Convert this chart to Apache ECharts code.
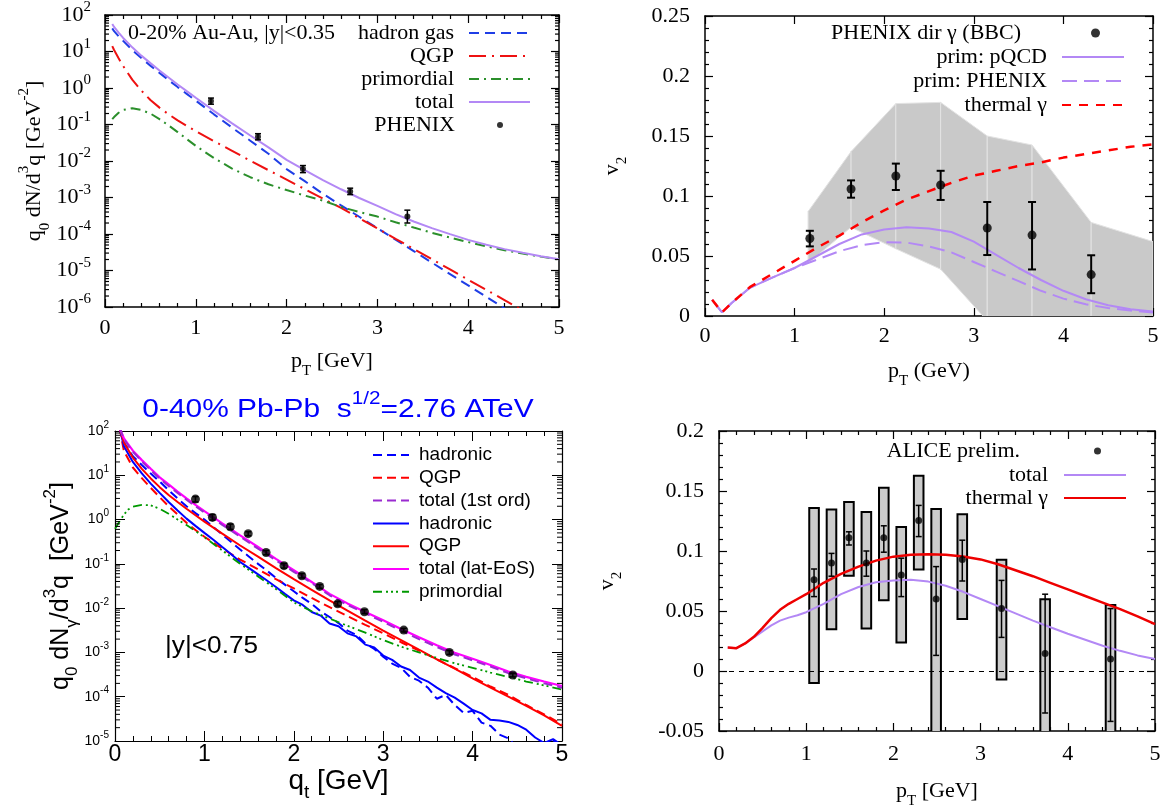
<!DOCTYPE html>
<html>
<head>
<meta charset="utf-8">
<title>Direct photon spectra and elliptic flow</title>
<script src="https://cdn.jsdelivr.net/npm/echarts@6/dist/echarts.min.js"></script>
<style>
  html, body { margin: 0; padding: 0; background: #fff; }
  #chart { width: 1167px; height: 810px; }
</style>
</head>
<body>
<div id="chart"></div>
<script>
// ---------- Au-Au 0-20% photon spectra (top left) ----------
const auPt = [0.08,0.1,0.15,0.2,0.3,0.4,0.5,0.6,0.7,0.8,0.9,1.0,1.2,1.4,1.6,1.8,2.0,2.2,2.4,2.6,2.8,3.0,3.2,3.4,3.6,3.8,4.0,4.2,4.4,4.6,4.8,5.0];
const auHadronGas = [43,36,26,19.5,11,6.6,4.1,2.6,1.65,1.06,0.69,0.45,0.19,0.082,0.036,0.0158,0.006,0.0028,0.00126,0.00061,0.000297,0.000144,7e-5,3.4e-5,1.65e-5,8e-6,3.9e-6,1.9e-6,9.2e-7,4.5e-7,2.2e-7,1.05e-7];
const auQGP = [14,11,6.5,4.0,1.7,0.85,0.47,0.29,0.19,0.13,0.092,0.066,0.035,0.019,0.0102,0.0056,0.0031,0.0017,0.00093,0.00052,0.000272,0.000142,7.4e-5,3.9e-5,2.05e-5,1.07e-5,5.6e-6,2.95e-6,1.55e-6,8.1e-7,4.2e-7,2.2e-7];
const auPrimordial = [0.14,0.16,0.21,0.25,0.28,0.25,0.2,0.14,0.095,0.062,0.04,0.026,0.012,0.0062,0.0036,0.0023,0.0016,0.00113,0.00082,0.00055,0.0004,0.0003,0.00021,0.00015,0.000108,8e-5,6e-5,4.6e-5,3.6e-5,2.9e-5,2.4e-5,2e-5];
const auTotal = [57,47,33,23.5,13,7.7,4.8,3.0,1.94,1.25,0.82,0.54,0.237,0.107,0.05,0.0237,0.0107,0.0056,0.003,0.00168,0.00097,0.00059,0.00035,0.00022,0.000145,9.9e-5,6.9e-5,5.1e-5,3.85e-5,3.05e-5,2.46e-5,2.03e-5];
const phenixPt = [1.167,1.685,2.18,2.70,3.33];
const phenixYield = [0.44,0.046,0.006,0.00145,0.0003];
const phenixLo = [0.36,0.038,0.0048,0.0012,0.0002];
const phenixHi = [0.53,0.056,0.0075,0.0018,0.00045];

// ---------- Au-Au photon v2 (top right) ----------
const v2Pt = [0.08,0.19,0.3,0.5,0.75,1.0,1.25,1.5,1.75,2.0,2.25,2.5,2.75,3.0,3.25,3.5,3.75,4.0,4.25,4.5,4.75,5.0];
const v2Thermal = [0.0135,0.003,0.011,0.024,0.035,0.046,0.057,0.067,0.078,0.088,0.097,0.104,0.111,0.117,0.121,0.125,0.128,0.132,0.135,0.138,0.141,0.143];
const v2PrimPQCD = [0.0135,0.003,0.011,0.0235,0.032,0.040,0.050,0.060,0.068,0.072,0.074,0.073,0.070,0.062,0.051,0.040,0.030,0.021,0.014,0.009,0.0057,0.0037];
const v2PrimPhenix = [0.0135,0.003,0.011,0.0235,0.032,0.040,0.047,0.054,0.059,0.0615,0.0612,0.058,0.053,0.045,0.037,0.029,0.021,0.0145,0.0098,0.0066,0.0045,0.003];
const phxV2Pt = [1.17,1.63,2.13,2.63,3.15,3.65,4.31];
const phxV2 = [0.0646,0.1058,0.1167,0.1092,0.0733,0.0674,0.0345];
const phxV2Lo = [0.058,0.0986,0.105,0.0967,0.0508,0.0388,0.019];
const phxV2Hi = [0.071,0.113,0.127,0.121,0.095,0.095,0.0506];
const sysBandPt = [1.15,1.63,2.13,2.63,3.15,3.65,4.31,5.0];
const sysBandLo = [0.044,0.074,0.056,0.039,-0.004,-0.03,-0.02,-0.02];
const sysBandHi = [0.087,0.137,0.177,0.178,0.150,0.1425,0.078,0.062];

// ---------- Pb-Pb 0-40% photon spectra (bottom left) ----------
const pbPt = [0.05,0.1,0.2,0.3,0.4,0.5,0.6,0.7,0.8,0.9,1.0,1.2,1.4,1.6,1.8,2.0,2.2,2.4,2.6,2.8,3.0,3.2,3.4,3.6,3.8,4.0,4.2,4.4,4.6,4.8,5.0];
const qgpFirst = [120,35,15,8.6,5.2,3.2,2.0,1.3,0.85,0.58,0.41,0.22,0.125,0.075,0.045,0.028,0.017,0.0105,0.0066,0.0042,0.0027,0.0017,0.0011,0.0007,0.00044,0.00028,0.00017,0.00011,6.5e-5,4e-5,2.4e-5];
const qgpLat = [120,55,25,14,8.5,5.4,3.6,2.5,1.75,1.25,0.9,0.48,0.26,0.145,0.08,0.045,0.026,0.015,0.0088,0.0052,0.0031,0.0019,0.00115,0.0007,0.00043,0.00026,0.00016,0.0001,6.2e-5,3.8e-5,2.2e-5];
const totalFirst = [120,65,34,20.5,13,8.4,5.7,4.0,2.8,2.0,1.45,0.76,0.41,0.22,0.12,0.066,0.037,0.0195,0.0118,0.0076,0.0049,0.0031,0.002,0.00133,0.0009,0.00066,0.00048,0.00034,0.00026,0.0002,0.00016];
const totalLat = [120,68,36,22,14,9,6.2,4.3,3.0,2.15,1.55,0.82,0.44,0.24,0.13,0.072,0.039,0.021,0.0128,0.0082,0.0053,0.0034,0.0022,0.00145,0.00098,0.00072,0.00052,0.00037,0.00028,0.00022,0.000175];
const hadPt = [0.05,0.1,0.2,0.3,0.4,0.5,0.6,0.7,0.8,0.9,1.0,1.1,1.2,1.3,1.4,1.5,1.6,1.7,1.8,1.9,2.0,2.1,2.2,2.3,2.4,2.5,2.6,2.7,2.8,2.9,3.0,3.1,3.2,3.3,3.4,3.5,3.6,3.7,3.8,3.9,4.0,4.1,4.2,4.3,4.4,4.5,4.6,4.7,4.8,4.9,5.0];
const hadFirst = [120,55,27,17,11,7.2,4.6,3.0,2.0,1.4,1.0,0.68,0.46,0.31,0.21,0.145,0.1,0.07,0.048,0.034,0.024,0.017,0.0125,0.0085,0.0063,0.0046,0.0031,0.0025,0.0016,0.0012,0.0008,0.00056,0.00045,0.00028,0.00023,0.00016,9e-5,0.00011,6.5e-5,4.3e-5,4.8e-5,2.6e-5,2.2e-5,1.4e-5,1.15e-5,7e-6,5e-6,4e-6,8e-6,1.05e-5,7e-6];
const hadLat = [120,45,20,11,6.5,4.0,2.5,1.6,1.05,0.72,0.5,0.35,0.24,0.165,0.11,0.08,0.058,0.042,0.03,0.021,0.015,0.0118,0.0082,0.0068,0.0045,0.0039,0.0027,0.0023,0.0015,0.0013,0.00085,0.00068,0.00048,0.0004,0.00027,0.00022,0.00016,0.00012,9.5e-5,7e-5,5e-5,4.2e-5,3e-5,2.9e-5,2.7e-5,2.3e-5,1.8e-5,1.2e-5,9e-6,1.1e-5,8e-6];
const primPt = [0.0,0.05,0.1,0.15,0.2,0.3,0.4,0.5,0.6,0.7,0.8,0.9,1.0,1.2,1.4,1.6,1.8,2.0,2.2,2.4,2.6,2.8,3.0,3.2,3.4,3.6,3.8,4.0,4.2,4.4,4.6,4.8,5.0];
const primPb = [0.62,0.9,1.3,1.7,1.95,2.15,2.1,1.75,1.35,1.0,0.75,0.55,0.4,0.2,0.1,0.052,0.027,0.0135,0.0085,0.0058,0.004,0.0028,0.0019,0.00135,0.001,0.00075,0.00057,0.00045,0.00035,0.00028,0.00022,0.00018,0.000145];
const alicePt = [0.9,1.09,1.29,1.49,1.69,1.89,2.09,2.29,2.49,2.79,3.23,3.74,4.45];
const aliceYield = [2.9,1.12,0.69,0.48,0.18,0.091,0.054,0.031,0.0125,0.0083,0.0032,0.001,0.00031];
const aliceLo = [2.5,0.97,0.6,0.43,0.16,0.08,0.048,0.028,0.0112,0.0075,0.0029,0.0009,0.00028];
const aliceHi = [3.3,1.3,0.79,0.53,0.2,0.102,0.06,0.034,0.014,0.0092,0.0035,0.0011,0.00034];

// ---------- Pb-Pb photon v2 (bottom right) ----------
const lhcPt = [0.1,0.2,0.3,0.4,0.5,0.6,0.7,0.8,0.9,1.0,1.2,1.4,1.6,1.8,2.0,2.2,2.4,2.6,2.8,3.0,3.2,3.4,3.6,3.8,4.0,4.2,4.4,4.6,4.8,5.0];
const lhcThermal = [0.0195,0.019,0.023,0.0285,0.036,0.044,0.051,0.056,0.060,0.064,0.0735,0.081,0.087,0.092,0.0953,0.0968,0.0972,0.0968,0.0955,0.093,0.089,0.084,0.079,0.0735,0.068,0.0625,0.057,0.0515,0.0455,0.039];
const lhcTotal = [0.0195,0.019,0.023,0.028,0.033,0.038,0.042,0.0445,0.0465,0.049,0.056,0.064,0.070,0.074,0.0755,0.076,0.0745,0.071,0.066,0.060,0.054,0.048,0.042,0.0365,0.031,0.026,0.021,0.0168,0.013,0.010];
const aliceV2Pt = [1.09,1.29,1.49,1.69,1.89,2.09,2.29,2.49,2.79,3.24,3.74,4.49];
const aliceV2 = [0.076,0.090,0.111,0.090,0.111,0.080,0.1254,0.060,0.093,0.052,0.0146,0.010];
const aliceV2StatLo = [0.062,0.079,0.105,0.079,0.099,0.062,0.112,0.013,0.075,0.028,-0.035,-0.042];
const aliceV2StatHi = [0.085,0.098,0.116,0.100,0.121,0.094,0.138,0.087,0.109,0.0755,0.064,0.052];
const aliceV2SysLo = [-0.0099,0.0347,0.0794,0.0355,0.059,0.0238,0.0845,-0.06,0.0433,-0.0071,-0.06,-0.06];
const aliceV2SysHi = [0.1358,0.1346,0.1408,0.1324,0.1527,0.120,0.1628,0.135,0.1307,0.0927,0.0597,0.055];

// ---------- styling helpers ----------
const SERIF = '"Liberation Serif","Times New Roman",serif';
const SANS = '"Liberation Sans",Arial,Helvetica,sans-serif';
const pairs = (xs, ys) => xs.map((x, i) => [x, ys[i]]);
const quads = (xs, ys, lo, hi) => xs.map((x, i) => [x, ys[i], lo[i], hi[i]]);
const stripTag = n => n.split('#')[0];

function scriptRich(family, size, color) {
  const s = Math.round(size * 0.68);
  return {
    b: { fontFamily: family, fontSize: size, lineHeight: size + 14, verticalAlign: 'middle', color: color, fill: color },
    sup: { fontFamily: family, fontSize: s, lineHeight: s, verticalAlign: 'top', color: color, fill: color },
    sub: { fontFamily: family, fontSize: s, lineHeight: s, verticalAlign: 'bottom', color: color, fill: color }
  };
}
function powRich(family, size, supSize, lh) {
  return {
    b: { fontFamily: family, fontSize: size, lineHeight: lh, verticalAlign: 'middle', color: '#000' },
    s: { fontFamily: family, fontSize: supSize, lineHeight: supSize, verticalAlign: 'top', color: '#000' }
  };
}
const powFormatter = v => '{b|10}{s|' + Math.round(Math.log10(v)) + '}';

function makeX(grid, o) {
  const base = {
    gridIndex: grid, type: 'value', min: 0, max: 5, interval: 1,
    axisLine: { show: true, onZero: false, lineStyle: { color: '#000', width: o.lw } },
    axisTick: { show: true, inside: true, length: o.tick, lineStyle: { color: '#000', width: o.tw } },
    minorTick: { show: o.minor, splitNumber: 5, length: o.minorLen, lineStyle: { color: '#000', width: o.tw } },
    splitLine: { show: false }, minorSplitLine: { show: false }
  };
  return [
    Object.assign({}, base, {
      position: 'bottom', name: o.name, nameLocation: 'middle', nameGap: o.nameGap,
      nameTextStyle: { rich: o.nameRich },
      axisLabel: { show: true, color: '#000', fontFamily: o.family, fontSize: o.labelSize, margin: o.margin }
    }),
    Object.assign({}, base, { position: 'top', name: '', axisLabel: { show: false } })
  ];
}
function makeY(grid, o) {
  const base = {
    gridIndex: grid, type: o.type, min: o.min, max: o.max,
    axisLine: { show: true, onZero: false, lineStyle: { color: '#000', width: o.lw } },
    axisTick: { show: true, inside: true, length: o.tick, lineStyle: { color: '#000', width: o.tw } },
    splitLine: { show: false }, minorSplitLine: { show: false }
  };
  if (o.type === 'log') { base.logBase = 10; base.splitNumber = o.splits; }
  else {
    base.interval = o.interval;
    base.minorTick = { show: true, splitNumber: 5, length: o.minorLen, lineStyle: { color: '#000', width: o.tw } };
  }
  return [
    Object.assign({}, base, {
      position: 'left', name: o.name, nameLocation: 'middle', nameGap: o.nameGap, nameRotate: 90,
      nameTextStyle: { rich: o.nameRich },
      axisLabel: Object.assign({ show: true, color: '#000', fontFamily: o.family, fontSize: o.labelSize, margin: o.margin }, o.label || {})
    }),
    Object.assign({}, base, { position: 'right', name: '', axisLabel: { show: false } })
  ];
}

// minor ticks of a decade axis, drawn on both vertical edges of the grid
function logMinorValues(e0, e1) {
  const out = [];
  for (let e = e0; e < e1; e++) for (let m = 2; m <= 9; m++) out.push([0, m * Math.pow(10, e)]);
  return out;
}
function logMinorItem(len, width) {
  return function (params, api) {
    const cs = params.coordSys;
    const y = api.coord([api.value(0), api.value(1)])[1];
    const st = { stroke: '#000', lineWidth: width };
    return { type: 'group', children: [
      { type: 'line', shape: { x1: cs.x, y1: y, x2: cs.x + len, y2: y }, style: st },
      { type: 'line', shape: { x1: cs.x + cs.width - len, y1: y, x2: cs.x + cs.width, y2: y }, style: st }
    ] };
  };
}
function errorBarItem(cap, width, color) {
  return function (params, api) {
    const x = api.value(0);
    const lo = api.coord([x, api.value(2)]);
    const hi = api.coord([x, api.value(3)]);
    const st = { stroke: color, lineWidth: width };
    return { type: 'group', children: [
      { type: 'line', shape: { x1: lo[0], y1: lo[1], x2: hi[0], y2: hi[1] }, style: st },
      { type: 'line', shape: { x1: lo[0] - cap, y1: lo[1], x2: lo[0] + cap, y2: lo[1] }, style: st },
      { type: 'line', shape: { x1: hi[0] - cap, y1: hi[1], x2: hi[0] + cap, y2: hi[1] }, style: st }
    ] };
  };
}
function bandItem(params, api) {
  const pts = [
    api.coord([api.value(0), api.value(1)]), api.coord([api.value(0), api.value(2)]),
    api.coord([api.value(3), api.value(5)]), api.coord([api.value(3), api.value(4)])
  ];
  return { type: 'polygon', shape: { points: pts }, style: { fill: '#c9c9c9', stroke: '#e3e3e3', lineWidth: 1 } };
}
const boxHalfWidth = 0.055;
function sysBoxItem(params, api) {
  const x = api.value(0);
  const a = api.coord([x - boxHalfWidth, api.value(2)]);
  const b = api.coord([x + boxHalfWidth, api.value(1)]);
  return { type: 'rect', shape: { x: a[0], y: a[1], width: b[0] - a[0], height: b[1] - a[1] },
    style: { fill: '#cccccc', stroke: '#000', lineWidth: 2 } };
}

function line(name, xi, xs, ys, color, width, dash, z) {
  return { name: name, type: 'line', xAxisIndex: xi, yAxisIndex: xi, data: pairs(xs, ys),
    symbol: 'none', showSymbol: false, clip: true, z: z || 3,
    lineStyle: { color: color, width: width, type: dash || 'solid' }, itemStyle: { color: color } };
}
// one key row: text right-aligned, key sample (line or dot) to its right
function keyRow(name, textPad, iconLeft, iconW, centerY, isDot) {
  const lg = {
    show: true, data: [name], right: 1167 - (iconLeft + iconW), top: centerY - 12, align: 'right', orient: 'horizontal',
    itemWidth: iconW, itemHeight: isDot ? iconW : 14, padding: 0, selectedMode: false, formatter: stripTag,
    textStyle: { fontFamily: SERIF, fontSize: 22, lineHeight: 24, color: '#000', padding: [0, textPad, 0, 0] }
  };
  if (!isDot) lg.itemStyle = { opacity: 0 };
  return lg;
}

const BLUE = '#1f3ee6', RED = '#ee1111', GREEN = '#2b8f2b', LILAC = '#b388f5';
const gp = { lw: 1.5, tw: 1.2, tick: 8, minorLen: 4, family: SERIF, labelSize: 22 };
const rt = { lw: 1.2, tw: 1, tick: 10, minorLen: 5, family: SANS };

const xAxes = [].concat(
  makeX(0, Object.assign({}, gp, { minor: true, margin: 10, nameGap: 36,
    name: '{b|p}{sub|T}{b| [GeV]}', nameRich: scriptRich(SERIF, 22, '#000') })),
  makeX(1, Object.assign({}, gp, { minor: false, margin: 9, nameGap: 37,
    name: '{b|p}{sub|T}{b| (GeV)}', nameRich: scriptRich(SERIF, 22, '#000') })),
  makeX(2, Object.assign({}, rt, { minor: true, labelSize: 23, margin: 2, nameGap: 12,
    name: '{b|q}{sub|t}{b| [GeV]}', nameRich: scriptRich(SANS, 28, '#000') })),
  makeX(3, Object.assign({}, gp, { minor: true, margin: 12, nameGap: 42,
    name: '{b|p}{sub|T}{b| [GeV]}', nameRich: scriptRich(SERIF, 22, '#000') }))
);
const yAxes = [].concat(
  makeY(0, Object.assign({}, gp, { type: 'log', min: 1e-6, max: 100, splits: 8, margin: 14, nameGap: 52,
    name: '{b|q}{sub|0}{b| dN/d}{sup|3}{b|q [GeV}{sup|-2}{b|]}', nameRich: scriptRich(SERIF, 22, '#000'),
    label: { formatter: powFormatter, rich: powRich(SERIF, 22, 15, 30) } })),
  makeY(1, Object.assign({}, gp, { type: 'value', min: 0, max: 0.25, interval: 0.05, margin: 15, nameGap: 75,
    name: '{b|v}{sub|2}', nameRich: scriptRich(SERIF, 22, '#000') })),
  makeY(2, Object.assign({}, rt, { type: 'log', min: 1e-5, max: 100, splits: 7, margin: 6, nameGap: 33,
    name: '{b|q}{sub|0}{b| dN}{sub|γ}{b|/d}{sup|3}{b|q  [GeV}{sup|-2}{b|]}', nameRich: scriptRich(SANS, 25, '#000'),
    label: { formatter: powFormatter, rich: powRich(SANS, 14, 10, 22) } })),
  makeY(3, Object.assign({}, gp, { type: 'value', min: -0.05, max: 0.2, interval: 0.05, margin: 15, nameGap: 94,
    name: '{b|v}{sub|2}', nameRich: scriptRich(SERIF, 22, '#000') }))
);

const series = [
  // top left
  line('hadron gas', 0, auPt, auHadronGas, BLUE, 2, [10, 6]),
  line('QGP#1', 0, auPt, auQGP, RED, 2, [17, 6, 2, 6]),
  line('primordial#1', 0, auPt, auPrimordial, GREEN, 2, [10, 5, 2, 5]),
  line('total#1', 0, auPt, auTotal, LILAC, 2),
  { type: 'custom', xAxisIndex: 0, yAxisIndex: 0, renderItem: errorBarItem(3, 1.5, '#000'),
    data: quads(phenixPt, phenixYield, phenixLo, phenixHi), encode: { x: 0, y: [1, 2, 3] }, z: 5, silent: true },
  { name: 'PHENIX', type: 'scatter', xAxisIndex: 0, yAxisIndex: 0, data: pairs(phenixPt, phenixYield),
    symbol: 'circle', symbolSize: 6, itemStyle: { color: '#000' }, z: 6 },
  { type: 'custom', xAxisIndex: 0, yAxisIndex: 0, renderItem: logMinorItem(4, 1.2),
    data: logMinorValues(-6, 2), encode: { x: 0, y: 1 }, z: 7, silent: true },

  // top right
  { type: 'custom', xAxisIndex: 2, yAxisIndex: 2, renderItem: bandItem, clip: true, z: 1, silent: true,
    data: sysBandPt.slice(0, -1).map((x, i) => [x, sysBandLo[i], sysBandHi[i], sysBandPt[i + 1], sysBandLo[i + 1], sysBandHi[i + 1]]),
    encode: { x: [0, 3], y: [1, 2, 4, 5] } },
  line('prim: pQCD', 2, v2Pt, v2PrimPQCD, LILAC, 2),
  line('prim: PHENIX', 2, v2Pt, v2PrimPhenix, LILAC, 2, [15, 7]),
  line('thermal γ#2', 2, v2Pt, v2Thermal, '#ff0000', 2.5, [9, 8], 4),
  { type: 'custom', xAxisIndex: 2, yAxisIndex: 2, renderItem: errorBarItem(4, 2, '#000'),
    data: quads(phxV2Pt, phxV2, phxV2Lo, phxV2Hi), encode: { x: 0, y: [1, 2, 3] }, z: 5, silent: true },
  { name: 'PHENIX dir γ (BBC)', type: 'scatter', xAxisIndex: 2, yAxisIndex: 2, data: pairs(phxV2Pt, phxV2),
    symbol: 'circle', symbolSize: 9, itemStyle: { color: '#000' }, z: 6 },

  // bottom left
  line('hadronic#d', 4, hadPt, hadFirst, '#0000ff', 2, [9, 5]),
  line('QGP#d', 4, pbPt, qgpFirst, '#ff0000', 2, [9, 5]),
  line('hadronic#s', 4, hadPt, hadLat, '#0000ff', 2),
  line('QGP#s', 4, pbPt, qgpLat, '#ff0000', 2),
  line('primordial#3', 4, primPt, primPb, '#009900', 1.8, [9, 4, 2, 3, 2, 3, 2, 4]),
  line('total (lat-EoS)', 4, pbPt, totalLat, '#ff00ff', 2.2),
  line('total (1st ord)', 4, pbPt, totalFirst, '#9a2bd0', 2, [9, 5], 4),
  { type: 'custom', xAxisIndex: 4, yAxisIndex: 4, renderItem: errorBarItem(3, 1.5, '#000'),
    data: quads(alicePt, aliceYield, aliceLo, aliceHi), encode: { x: 0, y: [1, 2, 3] }, z: 5, silent: true },
  { name: 'ALICE spectrum', type: 'scatter', xAxisIndex: 4, yAxisIndex: 4, data: pairs(alicePt, aliceYield),
    symbol: 'circle', symbolSize: 9, itemStyle: { color: '#000' }, z: 6 },
  { type: 'custom', xAxisIndex: 4, yAxisIndex: 4, renderItem: logMinorItem(5, 1),
    data: logMinorValues(-5, 2), encode: { x: 0, y: 1 }, z: 7, silent: true },

  // bottom right
  { type: 'line', xAxisIndex: 6, yAxisIndex: 6, data: [], z: 1, silent: true,
    markLine: { silent: true, symbol: 'none', label: { show: false },
      lineStyle: { color: '#000', width: 1, type: [5, 5] }, data: [{ yAxis: 0 }] } },
  { type: 'custom', xAxisIndex: 6, yAxisIndex: 6, renderItem: sysBoxItem, clip: true, z: 2, silent: true,
    data: aliceV2Pt.map((x, i) => [x, aliceV2SysLo[i], aliceV2SysHi[i]]), encode: { x: 0, y: [1, 2] } },
  line('total#4', 6, lhcPt, lhcTotal, LILAC, 2),
  line('thermal γ#4', 6, lhcPt, lhcThermal, '#ee0000', 2.5, 'solid', 4),
  { type: 'custom', xAxisIndex: 6, yAxisIndex: 6, renderItem: errorBarItem(3, 1.5, '#000'), clip: true,
    data: quads(aliceV2Pt, aliceV2, aliceV2StatLo, aliceV2StatHi), encode: { x: 0, y: [1, 2, 3] }, z: 5, silent: true },
  { name: 'ALICE prelim.', type: 'scatter', xAxisIndex: 6, yAxisIndex: 6, data: pairs(aliceV2Pt, aliceV2),
    symbol: 'circle', symbolSize: 7, itemStyle: { color: '#000' }, z: 6 }
];

const legends = [
  keyRow('hadron gas', 10, 470, 61, 33),
  keyRow('QGP#1', 10, 470, 61, 56),
  keyRow('primordial#1', 10, 470, 61, 79),
  keyRow('total#1', 10, 470, 61, 102),
  keyRow('PHENIX', 37, 497, 6, 125, true),
  keyRow('PHENIX dir γ (BBC)', 65, 1091, 9, 33, true),
  keyRow('prim: pQCD', 10, 1063, 62, 57),
  keyRow('prim: PHENIX', 10, 1063, 62, 81),
  keyRow('thermal γ#2', 10, 1063, 62, 105),
  keyRow('ALICE prelim.', 69, 1094, 7, 451, true),
  keyRow('total#4', 11, 1065, 62, 475),
  keyRow('thermal γ#4', 11, 1065, 62, 498),
  {
    show: true, orient: 'vertical', left: 372, top: 445, padding: 0, itemGap: 2.8,
    itemWidth: 36, itemHeight: 14, selectedMode: false, formatter: stripTag, align: 'left',
    itemStyle: { opacity: 0 },
    data: ['hadronic#d', 'QGP#d', 'total (1st ord)', 'hadronic#s', 'QGP#s', 'total (lat-EoS)', 'primordial#3'],
    textStyle: { fontFamily: SANS, fontSize: 19, lineHeight: 20, color: '#000', padding: [0, 0, 0, 5] }
  }
];

const option = {
  animation: false,
  backgroundColor: '#ffffff',
  textStyle: { fontFamily: SERIF },
  grid: [
    { left: 105, top: 15, width: 454, height: 292 },
    { left: 705, top: 16, width: 448, height: 300 },
    { left: 115, top: 431, width: 447, height: 310 },
    { left: 719, top: 431, width: 436, height: 300 }
  ],
  xAxis: xAxes,
  yAxis: yAxes,
  legend: legends,
  series: series,
  graphic: [
    { type: 'text', x: 128, y: 33, silent: true,
      style: { text: '0-20% Au-Au, |y|<0.35', font: '22px ' + SERIF, fill: '#000', align: 'left', verticalAlign: 'middle' } },
    { type: 'text', x: 338, y: 410, scaleX: 1.15, silent: true,
      style: { text: '{b|0-40% Pb-Pb  s}{sup|1/2}{b|=2.76 ATeV}', align: 'center', verticalAlign: 'middle',
        rich: scriptRich(SANS, 26, '#0000ff') } },
    { type: 'text', x: 165, y: 647, scaleX: 1.14, silent: true,
      style: { text: '|y|<0.75', font: '23px ' + SANS, fill: '#000', align: 'left', verticalAlign: 'middle' } }
  ]
};

const chart = echarts.init(document.getElementById('chart'), null, { renderer: 'canvas' });
chart.setOption(option);
</script>
</body>
</html>
